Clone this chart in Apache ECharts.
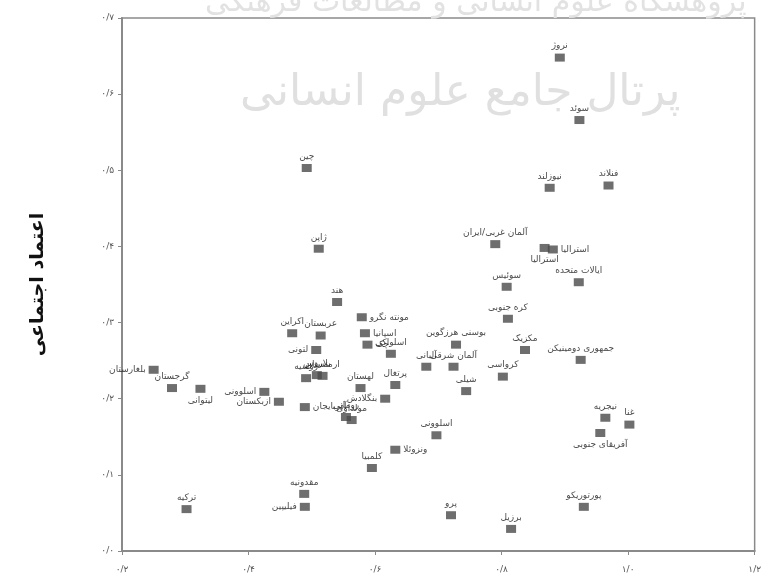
<!DOCTYPE html>
<html>
<head>
<meta charset="utf-8">
<script src="https://cdn.jsdelivr.net/npm/echarts@6/dist/echarts.min.js"></script>
<style>
  html, body { margin: 0; padding: 0; background: #fff; }
  #chart { width: 764px; height: 583px; }
</style>
</head>
<body>
<div id="chart"></div>
<script>
// Country names (Persian), x values, social-trust values
const countries = [
  'نروژ', 'سوئد', 'چین', 'نیوزلند', 'فنلاند', 'ژاپن', 'آلمان غربی/ایران',
  'استرالیا', 'استرالیا', 'ایالات متحده', 'سوئیس', 'کره جنوبی', 'مکزیک',
  'جمهوری دومینیکن', 'بوسنی هرزگوین', 'آلمان شرقی', 'آلبانی', 'کرواسی', 'شیلی',
  'اسلواکی', 'چک', 'اسپانیا', 'مونته نگرو', 'هند', 'اکراین', 'عربستان', 'لتونی',
  'روسیه', 'بلاروس', 'ارمنستان', 'اسلوونی', 'ازبکستان', 'آذربایجان', 'رومانی',
  'مولداوی', 'لهستان', 'پرتغال', 'بنگلادش', 'گرجستان', 'بلغارستان', 'لیتوانی',
  'نیجریه', 'ترکیه', 'مقدونیه', 'فیلیپین', 'کلمبیا', 'ونزوئلا', 'اسلوونی',
  'پرو', 'برزیل', 'پورتوریکو', 'آفریقای جنوبی', 'نیجریه', 'غنا', 'اروگوئه',
  'روسیه', 'بنگلادش'
];
const xValues = [
  0.892, 0.923, 0.492, 0.876, 0.969, 0.511, 0.790,
  0.868, 0.881, 0.922, 0.808, 0.810, 0.837,
  0.925, 0.728, 0.724, 0.681, 0.802, 0.744,
  0.625, 0.588, 0.584, 0.579, 0.540, 0.469, 0.514, 0.507,
  0.491, 0.508, 0.517, 0.425, 0.448, 0.489, 0.554,
  0.563, 0.577, 0.632, 0.616, 0.279, 0.250, 0.324,
  0.349, 0.302, 0.488, 0.489, 0.595, 0.632, 0.697,
  0.720, 0.815, 0.930, 0.956, 0.964, 1.002, 0.893,
  0.779, 0.762
];
const yValues = [
  0.648, 0.566, 0.503, 0.477, 0.480, 0.397, 0.403,
  0.398, 0.396, 0.353, 0.347, 0.305, 0.264,
  0.251, 0.271, 0.242, 0.242, 0.229, 0.210,
  0.259, 0.271, 0.286, 0.307, 0.327, 0.286, 0.283, 0.264,
  0.227, 0.231, 0.230, 0.209, 0.196, 0.189, 0.176,
  0.172, 0.214, 0.218, 0.200, 0.214, 0.238, 0.213,
  0.150, 0.055, 0.075, 0.058, 0.109, 0.133, 0.152,
  0.047, 0.029, 0.058, 0.155, 0.175, 0.166, 0.165,
  0.134, 0.122
];
// Names whose marker is not drawn (label only)
const labelOnly = [41, 54, 55, 56];
// Where each name sits relative to its marker
const labelPlace = [
  'top', 'top', 'top', 'top', 'top', 'top', 'top',
  'bottom', 'right', 'top', 'top', 'top', 'top',
  'top', 'top', 'top', 'top', 'top', 'top',
  'top', 'right', 'right', 'right', 'top', 'top', 'top', 'left',
  'top', 'top', 'top', 'left', 'left', 'right', 'top',
  'top', 'top', 'top', 'left', 'top', 'left', 'bottom',
  'top', 'top', 'top', 'left', 'top', 'right', 'top',
  'top', 'top', 'top', 'bottom', 'top', 'top', 'top',
  'top', 'top'
];

const xTicks = { min: 0.2, max: 1.2, step: 0.2 };
const yTicks = { min: 0.0, max: 0.7, step: 0.1 };

const faDigits = '۰۱۲۳۴۵۶۷۸۹';
function toPersian(v) {
  return v.toFixed(1).replace(/\d/g, d => faDigits[+d]).replace('.', '/');
}

const points = countries.map((name, i) => {
  const item = {
    name: name,
    value: [xValues[i], yValues[i]],
    label: { position: labelPlace[i] }
  };
  if (labelOnly.indexOf(i) >= 0) item.itemStyle = { opacity: 0 };
  return item;
});

const chart = echarts.init(document.getElementById('chart'), null, { renderer: 'canvas' });
const fontFa = 'DejaVu Sans';

chart.setOption({
  backgroundColor: '#ffffff',
  animation: false,
  grid: { left: 122, right: 6, top: 18, bottom: 32, show: true, borderColor: '#8a8a8a', borderWidth: 1.5 },
  graphic: [
    {
      type: 'text', left: 205, top: -12, z: 0, silent: true,
      style: { text: 'پژوهشگاه علوم انسانی و مطالعات فرهنگی', fontFamily: fontFa, fontSize: 30, fill: '#e2e2e2' }
    },
    {
      type: 'text', left: 240, top: 72, z: 0, silent: true,
      style: { text: 'پرتال جامع علوم انسانی', fontFamily: fontFa, fontSize: 44, fill: '#e0e0e0' }
    }
  ],
  xAxis: {
    type: 'value',
    min: xTicks.min, max: xTicks.max, interval: xTicks.step,
    axisLine: { show: true, lineStyle: { color: '#8a8a8a', width: 2 } },
    axisTick: { show: true, length: 4, lineStyle: { color: '#8a8a8a' } },
    splitLine: { show: false },
    axisLabel: { formatter: toPersian, color: '#555', fontFamily: fontFa, fontSize: 9, margin: 14 }
  },
  yAxis: {
    type: 'value',
    min: yTicks.min, max: yTicks.max, interval: yTicks.step,
    name: 'اعتماد اجتماعی',
    nameLocation: 'middle',
    nameGap: 74,
    nameRotate: 90,
    nameTextStyle: { fontFamily: fontFa, fontSize: 19, fontWeight: 'bold', color: '#111' },
    axisLine: { show: true, lineStyle: { color: '#8a8a8a', width: 2 } },
    axisTick: { show: true, length: 4, lineStyle: { color: '#8a8a8a' } },
    splitLine: { show: false },
    axisLabel: { formatter: toPersian, color: '#555', fontFamily: fontFa, fontSize: 9, margin: 8 }
  },
  series: [{
    type: 'scatter',
    z: 5,
    symbol: 'rect',
    symbolSize: [10, 8],
    itemStyle: { color: '#4a4a4a' },
    label: {
      show: true,
      formatter: p => p.name,
      fontFamily: fontFa,
      fontSize: 9,
      color: '#151515',
      distance: 3
    },
    data: points
  }]
});
</script>
</body>
</html>
